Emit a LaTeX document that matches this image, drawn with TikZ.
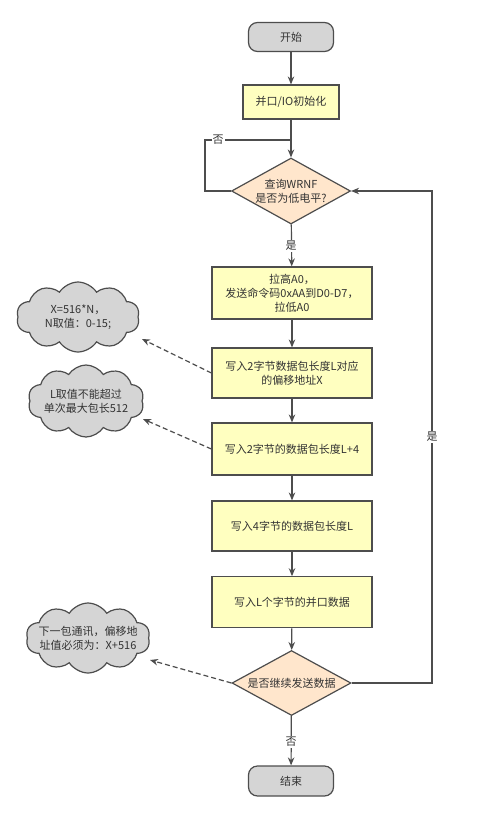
\documentclass[tikz,border=0pt]{standalone}
\usepackage{fontspec}
\setmainfont{Noto Sans CJK SC}
\usetikzlibrary{shapes.geometric,shapes.symbols,arrows.meta}
\definecolor{boxfill}{HTML}{FFFFC0}
\definecolor{decfill}{HTML}{FFE6CC}
\definecolor{termfill}{HTML}{D5D5D5}
\definecolor{linec}{HTML}{4D4D4D}
\definecolor{txt}{HTML}{333333}
\tikzset{
  base/.style={draw=linec, line width=1.2pt, text=txt, align=center, inner sep=1pt},
  term/.style={base, rounded corners=9pt, fill=termfill, minimum width=85pt, minimum height=29pt},
  procbox/.style={base, fill=boxfill, minimum width=160pt, minimum height=51pt},
  initbox/.style={base, fill=boxfill, minimum width=96pt, minimum height=34pt},
  decision/.style={base, diamond, aspect=1.8, fill=decfill, minimum width=119pt, minimum height=66pt, inner sep=0pt},
  note/.style={base, cloud, cloud puffs=10, cloud puff arc=115, fill=termfill, inner sep=0pt},
  notetext/.style={align=center, text=txt},
  flow/.style={draw=linec, line width=1.2pt, -{Stealth[length=8pt,width=6.5pt]}},
  plain/.style={draw=linec, line width=1.2pt},
  dashflow/.style={draw=linec, line width=1.2pt, dash pattern=on 5pt off 3pt, -{Stealth[length=8pt,width=6.5pt]}},
  lbl/.style={fill=white, text=txt, inner sep=1pt}
}
\begin{document}
\begin{tikzpicture}[x=1pt, y=-1pt, font=\fontsize{11}{14}\selectfont]
\useasboundingbox[fill=white] (0,0) rectangle (477,831);

\node[term] (start) at (291,37) {开始};
\node[initbox] (init) at (291,102) {并口/IO初始化};
\node[decision] (d1) at (291,191) {查询WRNF\\是否为低电平?};
\node[procbox, minimum height=52pt] (b2) at (292,293) {拉高A0，\\发送命令码0xAA到D0-D7，\\拉低A0};
\node[procbox, minimum height=50pt] (b3) at (292,373) {写入2字节数据包长度L对应\\的偏移地址X};
\node[procbox, minimum height=52pt] (b4) at (292,449) {写入2字节的数据包长度L+4};
\node[procbox, minimum height=50pt] (b5) at (292,526) {写入4字节的数据包长度L};
\node[procbox, minimum height=51pt] (b6) at (292,602.3) {写入L个字节的并口数据};
\node[decision, minimum height=65pt] (d2) at (291.5,683) {是否继续发送数据};
\node[term, minimum height=30pt] (end) at (291,781) {结束};

\node[note, minimum width=123pt, minimum height=70pt,
  label={[notetext]center:X=516*N，\\N取值：0-15;}] (c1) at (78,317) {};
\node[note, minimum width=116pt, minimum height=72pt,
  label={[notetext]center:L取值不能超过\\单次最大包长512}] (c2) at (86,401) {};
\node[note, minimum width=124pt, minimum height=70pt,
  label={[notetext]center:下一包通讯，偏移地\\址值必须为：X+516}] (c3) at (88,638) {};

\coordinate (lA) at (205,191);
\coordinate (lB) at (205,140);
\coordinate (lC) at (291,140);
\coordinate (rA) at (432,683);
\coordinate (rB) at (432,191);
\coordinate (t1) at (142,339);
\coordinate (t2) at (143,419);
\coordinate (t3) at (150,660);

\draw[flow] (start) -- (init);
\draw[flow] (init) -- (d1);
\draw[plain] (d1.west) -- (lA) -- (lB) -- (lC);
\node[lbl] at (218,140) {否};
\draw[flow] (d1) -- (b2);
\node[lbl] at (291,246) {是};
\draw[flow] (b2) -- (b3);
\draw[flow] (b3) -- (b4);
\draw[flow] (b4) -- (b5);
\draw[flow] (b5) -- (b6);
\draw[flow] (b6) -- (d2);
\draw[flow] (d2) -- (end);
\node[lbl] at (291,742) {否};
\draw[flow] (d2.east) -- (rA) -- (rB) -- (d1.east);
\node[lbl] at (432,437) {是};

\draw[dashflow] (b3.west) -- (t1);
\draw[dashflow] (b4.west) -- (t2);
\draw[dashflow] (d2.west) -- (t3);
\end{tikzpicture}
\end{document}
